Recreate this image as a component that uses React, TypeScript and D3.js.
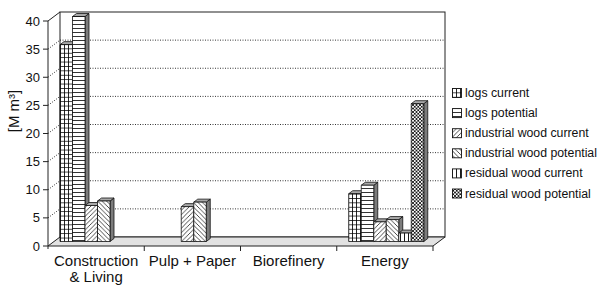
import React from 'react';
import * as d3 from 'd3';

// chart data
const categories = ['Construction & Living', 'Pulp + Paper', 'Biorefinery', 'Energy'];
const categoryLines = [['Construction', '& Living'], ['Pulp + Paper'], ['Biorefinery'], ['Energy']];
const seriesNames = [
  'logs current',
  'logs potential',
  'industrial wood current',
  'industrial wood potential',
  'residual wood current',
  'residual wood potential',
];
const logsCurrent = [35, 0, 0, 8.5];
const logsPotential = [40, 0, 0, 10];
const industrialCurrent = [6.4, 6.2, 0, 3.5];
const industrialPotential = [7.2, 7.0, 0, 3.9];
const residualCurrent = [0, 0, 0, 1.5];
const residualPotential = [0, 0, 0, 24.5];
const yTicks = [0, 5, 10, 15, 20, 25, 30, 35, 40];

const seriesValues = [logsCurrent, logsPotential, industrialCurrent, industrialPotential, residualCurrent, residualPotential];
const patternIds = ['pGrid', 'pHoriz', 'pDiagUp', 'pDiagDown', 'pVert', 'pCross'];

const W = 597;
const H = 285;
const left = 48;
const right = 433;
const DX = 12; // depth of the box
const DY = 9;
const BDX = 4; // depth of a bar
const BDY = 3;
const FONT = '"Liberation Sans", Arial, sans-serif';

export default function App() {
  const y = d3.scaleLinear().domain([0, 40]).range([246, 21]);
  const x = d3.scaleBand<string>().domain(categories).range([left, right]);
  const inner = d3.scaleBand<string>().domain(seriesNames).range([6, 81]);

  const bars: { cat: number; s: number; v: number }[] = [];
  categories.forEach((_, ci) => {
    seriesNames.forEach((_, si) => {
      const v = seriesValues[si][ci];
      if (v > 0) bars.push({ cat: ci, s: si, v });
    });
  });

  const yb0 = y(0);
  const yb40 = y(40);

  return (
    <svg width={W} height={H} style={{ position: 'absolute', left: 0, top: 0, background: '#fff' }}>
      <defs>
        <pattern id="pGrid" width={4} height={4.4} patternUnits="userSpaceOnUse">
          <rect width={4} height={4.4} fill="#fff" />
          <path d="M0 0.4H4 M0.5 0V4.4" stroke="#000" strokeWidth={0.8} />
        </pattern>
        <pattern id="pHoriz" width={4} height={4} patternUnits="userSpaceOnUse">
          <rect width={4} height={4} fill="#fff" />
          <path d="M0 0.5H4" stroke="#000" strokeWidth={0.8} />
        </pattern>
        <pattern id="pDiagUp" width={4.5} height={4.5} patternUnits="userSpaceOnUse">
          <rect width={4.5} height={4.5} fill="#fff" />
          <path d="M-1 5.5L5.5 -1 M-1 1L1 -1 M3.5 5.5L5.5 3.5" stroke="#000" strokeWidth={0.7} />
        </pattern>
        <pattern id="pDiagDown" width={4.5} height={4.5} patternUnits="userSpaceOnUse">
          <rect width={4.5} height={4.5} fill="#fff" />
          <path d="M-1 -1L5.5 5.5 M-1 3.5L1 5.5 M3.5 -1L5.5 1" stroke="#000" strokeWidth={0.7} />
        </pattern>
        <pattern id="pVert" width={4} height={4} patternUnits="userSpaceOnUse">
          <rect width={4} height={4} fill="#fff" />
          <path d="M0.5 0V4" stroke="#000" strokeWidth={0.9} />
        </pattern>
        <pattern id="pCross" width={3.5} height={3.5} patternUnits="userSpaceOnUse">
          <rect width={3.5} height={3.5} fill="#fff" />
          <path d="M0 0L3.5 3.5 M3.5 0L0 3.5" stroke="#000" strokeWidth={0.8} />
        </pattern>
      </defs>

      {/* back wall */}
      <rect x={left + DX} y={yb40 - DY} width={right - left} height={yb0 - yb40} fill="#fff" stroke="#222" strokeWidth={1} />
      {/* left wall top edge */}
      <line x1={left} y1={yb40} x2={left + DX} y2={yb40 - DY} stroke="#222" />

      {/* gridlines */}
      {yTicks.filter(t => t > 0 && t < 40).map(t => (
        <g key={t}>
          <line x1={left + DX} x2={right + DX} y1={y(t) - DY} y2={y(t) - DY} stroke="#000" strokeWidth={0.8} strokeDasharray="1,1.5" />
          <line x1={left} x2={left + DX} y1={y(t)} y2={y(t) - DY} stroke="#000" strokeWidth={0.8} strokeDasharray="1,1.5" />
        </g>
      ))}

      {/* floor */}
      <path
        d={`M${left},${yb0}L${left + DX},${yb0 - DY}L${right + DX},${yb0 - DY}L${right},${yb0}Z`}
        fill="#e2e2e2"
        stroke="#222"
        strokeWidth={1}
      />

      {/* bars */}
      {bars.map((b, i) => {
        const bx = (x(categories[b.cat]) as number) + (inner(seriesNames[b.s]) as number) + DX / 2;
        const bw = inner.bandwidth();
        const base = yb0 - DY / 2;
        const top = y(b.v) - DY / 2;
        return (
          <g key={i} stroke="#111" strokeWidth={0.8} strokeLinejoin="round">
            <path d={`M${bx + bw},${top}L${bx + bw + BDX},${top - BDY}L${bx + bw + BDX},${base - BDY}L${bx + bw},${base}Z`} fill="#7c7c7c" />
            <path d={`M${bx},${top}L${bx + BDX},${top - BDY}L${bx + bw + BDX},${top - BDY}L${bx + bw},${top}Z`} fill="#a9a9a9" />
            <rect x={bx} y={top} width={bw} height={base - top} fill={`url(#${patternIds[b.s]})`} />
          </g>
        );
      })}

      {/* y axis */}
      <line x1={left} x2={left} y1={yb40} y2={yb0 + 3} stroke="#222" />
      {yTicks.map(t => (
        <g key={t}>
          <line x1={left - 5} x2={left} y1={y(t)} y2={y(t)} stroke="#222" />
          <text x={left - 8} y={y(t)} textAnchor="end" dominantBaseline="central" fontFamily={FONT} fontSize={13} fill="#111">
            {t}
          </text>
        </g>
      ))}
      <text
        transform={`translate(19,111) rotate(-90)`}
        textAnchor="middle"
        fontFamily={FONT}
        fontSize={15}
        fill="#111"
      >
        [M m³]
      </text>

      {/* x axis ticks and labels */}
      {categories.map(c => (
        <line key={c} x1={(x(c) as number) + x.bandwidth()} x2={(x(c) as number) + x.bandwidth()} y1={yb0} y2={yb0 + 5} stroke="#222" />
      ))}
      {categories.map((c, i) => (
        <text key={c} textAnchor="middle" fontFamily={FONT} fontSize={15} fill="#111">
          {categoryLines[i].map((ln, k) => (
            <tspan key={k} x={(x(c) as number) + x.bandwidth() / 2} y={265.5 + k * 16.5}>
              {ln}
            </tspan>
          ))}
        </text>
      ))}

      {/* legend */}
      {seriesNames.map((s, i) => {
        const ly = 93 + i * 20.1;
        return (
          <g key={s}>
            <rect x={452.5} y={ly - 4.5} width={9} height={9} fill={`url(#${patternIds[i]})`} stroke="#111" strokeWidth={0.9} />
            <text x={465} y={ly} dominantBaseline="central" fontFamily={FONT} fontSize={12.3} fill="#111">
              {s}
            </text>
          </g>
        );
      })}
    </svg>
  );
}
